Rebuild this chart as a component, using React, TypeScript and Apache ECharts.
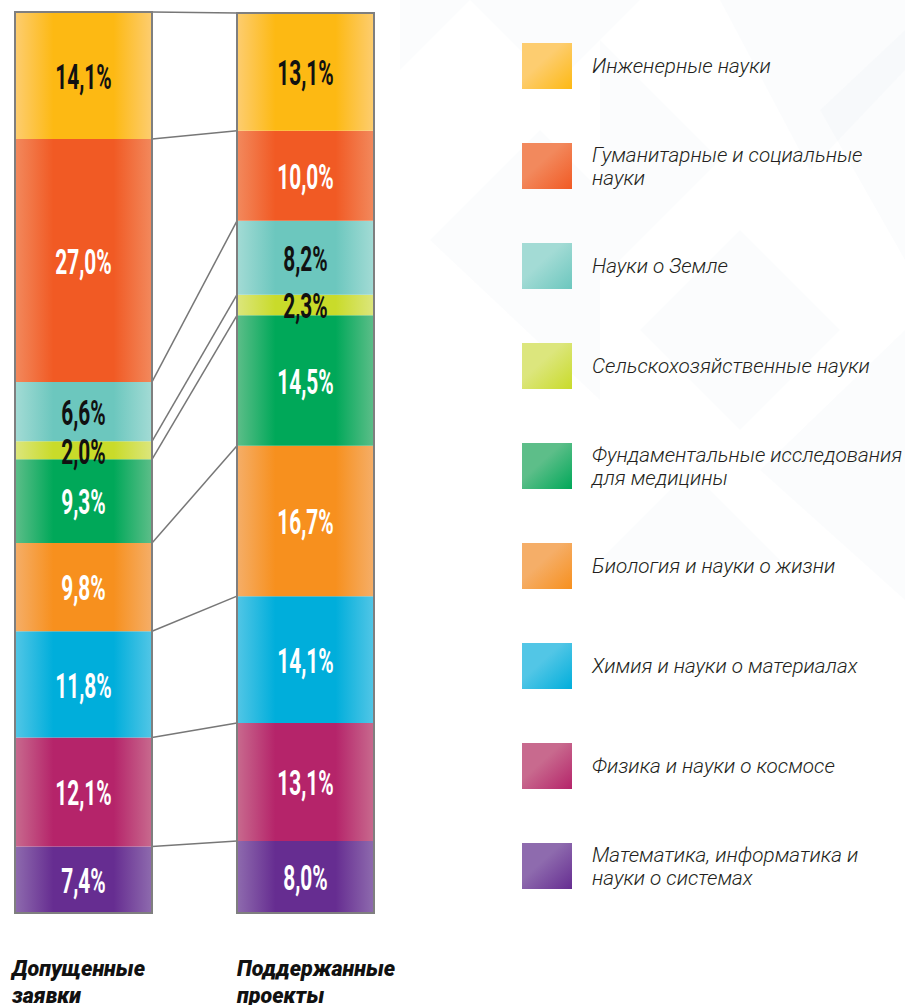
import React, { useEffect, useRef } from "react";
import * as echarts from "echarts";

const categories = ["Допущенные заявки", "Поддержанные проекты"];
const columnTitles = ["Допущенные\nзаявки", "Поддержанные\nпроекты"];
const fields = [
  "Инженерные науки",
  "Гуманитарные и социальные науки",
  "Науки о Земле",
  "Сельскохозяйственные науки",
  "Фундаментальные исследования для медицины",
  "Биология и науки о жизни",
  "Химия и науки о материалах",
  "Физика и науки о космосе",
  "Математика, информатика и науки о системах",
];
const legendLabels = [
  "Инженерные науки",
  "Гуманитарные и социальные\nнауки",
  "Науки о Земле",
  "Сельскохозяйственные науки",
  "Фундаментальные исследования\nдля медицины",
  "Биология и науки о жизни",
  "Химия и науки о материалах",
  "Физика и науки о космосе",
  "Математика, информатика и\nнауки о системах",
];
const applied = [14.1, 27.0, 6.6, 2.0, 9.3, 9.8, 11.8, 12.1, 7.4];
const supported = [13.1, 10.0, 8.2, 2.3, 14.5, 16.7, 14.1, 13.1, 8.0];

const centerColors = ["#FDB913", "#F15A24", "#6CC7BE", "#C9DB2A", "#00A859", "#F7901E", "#00AEDB", "#B5246A", "#662D91"];
const edgeColors = ["#FDCD70", "#F2895D", "#A3DBD5", "#DCE67D", "#5DBE89", "#F5AE68", "#52C6E6", "#C86A8E", "#8E6BAE"];
const labelColors = ["#111", "#fff", "#111", "#111", "#fff", "#fff", "#fff", "#fff", "#fff"];

const BAR_W = 137;

const sum = (a: number[]) => a.reduce((s, v) => s + v, 0);

export default function App() {
  const ref = useRef<HTMLDivElement>(null);
  useEffect(() => {
    if (!ref.current) return;
    const chart = echarts.init(ref.current, undefined, { renderer: "svg" });

    const barGradient = (i: number) =>
      new echarts.graphic.LinearGradient(0, 0, 1, 0, [
        { offset: 0, color: edgeColors[i] },
        { offset: 0.28, color: centerColors[i] },
        { offset: 0.72, color: centerColors[i] },
        { offset: 1, color: edgeColors[i] },
      ]);
    const legendGradient = (i: number) =>
      new echarts.graphic.LinearGradient(0, 0, 1, 1, [
        { offset: 0, color: edgeColors[i] },
        { offset: 0.4, color: edgeColors[i] },
        { offset: 1, color: centerColors[i] },
      ]);

    const barSeries: any[] = [];
    for (let i = fields.length - 1; i >= 0; i--) {
      barSeries.push({
        type: "bar",
        name: fields[i],
        stack: "total",
        barWidth: BAR_W,
        data: [applied[i], supported[i]],
        itemStyle: { color: barGradient(i) },
        z: 2,
      });
    }

    // label rows: [category index, segment mid value (stacked), value, field index]
    const labelData: number[][] = [];
    [applied, supported].forEach((arr, c) => {
      arr.forEach((v, k) => {
        const below = sum(arr.slice(k + 1));
        labelData.push([c, below + v / 2, v, k]);
      });
    });

    const connectorData = fields.map((_, k) => [0, sum(applied.slice(k)), sum(supported.slice(k))]);
    const outlineData = [
      [0, sum(applied)],
      [1, sum(supported)],
    ];

    const bgTriangles = [
      [[400, 0], [470, 0], [400, 70]],
      [[470, 0], [640, 0], [555, 85]],
      [[600, 40], [720, 160], [600, 280]],
      [[720, 0], [905, 0], [905, 70], [810, 170]],
      [[640, 330], [740, 230], [840, 330], [740, 430]],
      [[820, 110], [905, 30], [905, 260]],
      [[430, 240], [540, 130], [600, 190], [600, 400]],
      [[760, 470], [905, 330], [905, 600]],
      [[600, 560], [690, 470], [780, 560]],
    ];

    chart.setOption({
      animation: false,
      backgroundColor: "#ffffff",
      grid: { left: 83.5, width: 222, top: 12, height: 901 },
      xAxis: { type: "category", data: categories, show: false, boundaryGap: false },
      yAxis: { type: "value", min: 0, max: sum(applied), show: false },
      legend: {
        orient: "vertical",
        left: 522,
        top: 43,
        padding: 0,
        itemWidth: 50,
        itemHeight: 46,
        itemGap: 54,
        icon: "rect",
        selectedMode: false,
        data: fields.map((n, i) => ({ name: n, icon: "rect", itemStyle: { color: legendGradient(i) } })),
        formatter: (name: string) => legendLabels[fields.indexOf(name)],
        textStyle: {
          fontFamily: "Roboto, 'Noto Sans', sans-serif",
          fontStyle: "italic",
          fontWeight: 300,
          fontSize: 20.7,
          lineHeight: 23,
          color: "#231f20",
          padding: [0, 0, 0, 15],
        },
      },
      graphic: [
        ...bgTriangles.map((pts) => ({
          type: "polygon",
          z: -10,
          silent: true,
          shape: { points: pts },
          style: { fill: "rgba(225,228,238,0.12)" },
        })),
        {
          type: "text",
          left: 12,
          top: 955,
          style: {
            text: columnTitles[0],
            font: "italic 900 21.5px Roboto, sans-serif",
            lineHeight: 27,
            fill: "#111",
          },
        },
        {
          type: "text",
          left: 237,
          top: 955,
          style: {
            text: columnTitles[1],
            font: "italic 900 21.5px Roboto, sans-serif",
            lineHeight: 27,
            fill: "#111",
          },
        },
      ],
      series: [
        ...barSeries,
        {
          type: "custom",
          name: "connectors",
          data: connectorData,
          encode: { x: 0, y: [1, 2] },
          z: 1,
          silent: true,
          renderItem: (params: any, api: any) => {
            const a = api.coord([0, api.value(1)]);
            const b = api.coord([1, api.value(2)]);
            return {
              type: "line",
              shape: { x1: a[0] + BAR_W / 2, y1: a[1], x2: b[0] - BAR_W / 2, y2: b[1] },
              style: { stroke: "#777", lineWidth: 1.5 },
            };
          },
        },
        {
          type: "custom",
          name: "outline",
          data: outlineData,
          encode: { x: 0, y: 1 },
          z: 5,
          silent: true,
          renderItem: (params: any, api: any) => {
            const top = api.coord([api.value(0), api.value(1)]);
            const bottom = api.coord([api.value(0), 0]);
            return {
              type: "rect",
              shape: { x: top[0] - BAR_W / 2, y: top[1], width: BAR_W, height: bottom[1] - top[1] },
              style: { fill: "none", stroke: "#7f7f7f", lineWidth: 2 },
            };
          },
        },
        {
          type: "custom",
          name: "labels",
          data: labelData,
          encode: { x: 0, y: 1 },
          z: 6,
          silent: true,
          renderItem: (params: any, api: any) => {
            const p = api.coord([api.value(0), api.value(1)]);
            const k = api.value(3);
            return {
              type: "text",
              x: p[0],
              y: p[1] + 1,
              scaleX: 0.58,
              style: {
                text: api.value(2).toFixed(1).replace(".", ",") + "%",
                font: "bold 36px Roboto, sans-serif",
                fill: labelColors[k],
                align: "center",
                verticalAlign: "middle",
              },
            };
          },
        },
      ],
    });
    return () => chart.dispose();
  }, []);
  return <div ref={ref} style={{ position: "fixed", left: 0, top: 0, width: 905, height: 1005 }} />;
}
